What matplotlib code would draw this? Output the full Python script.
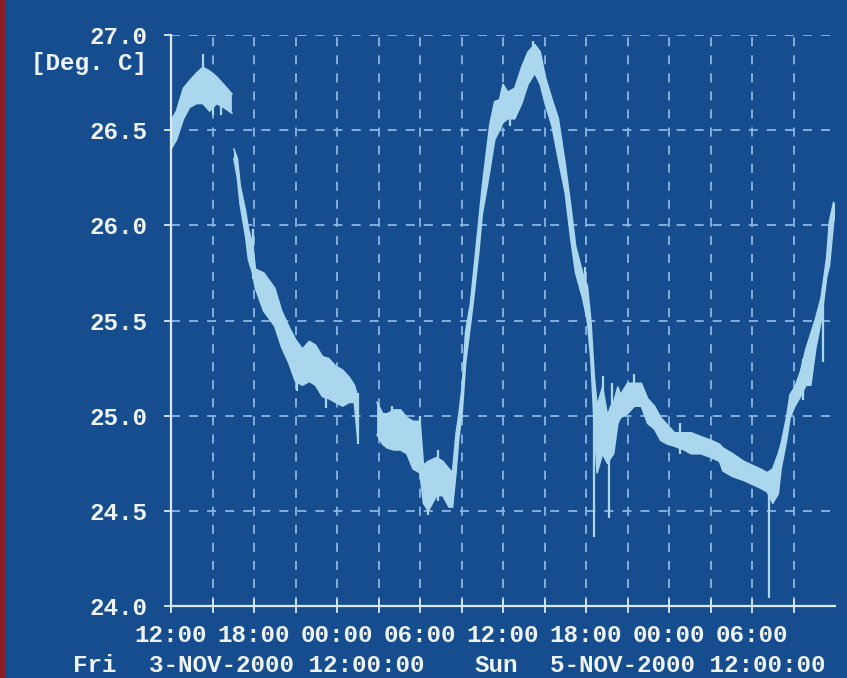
import numpy as np
import matplotlib
matplotlib.use("Agg")
import matplotlib.pyplot as plt
from matplotlib.patches import Rectangle

# ------------------------------------------------------------------
# Temperature log, Fri 3-Nov-2000 12:00 -> Sun 5-Nov-2000 12:00
# hours since start, lower / upper edge of the noisy trace (deg C)
# NaN rows are gaps in the recording
# ------------------------------------------------------------------
hours = [0.0, 0.4, 0.9, 1.35, 1.85, 2.3, 2.8, 3.3, 3.8, 4.4, np.nan,
         4.55, 4.8, 5.0, 5.4, 5.6, 5.9, 6.1, 6.7, 7.5, 8.0, 8.5, 9.0, 9.5,
         10.0, 10.45, 10.95, 11.4, 11.9, 12.4, 12.9, 13.25, 13.5, np.nan,
         14.9, 15.3, 15.65, 16.1, 16.6, 17.05, 17.5, 18.0, 18.25, 18.6,
         19.2, 19.65, 20.1, 20.35, 20.6, 20.8, 21.05, 21.3, 21.65, 21.9,
         22.25, 22.5, 22.7, 23.05, 23.4, 23.75, 24.0, 24.35, 24.85, 25.35,
         25.8, 26.3, 26.7, 27.05, 27.55, 28.0, 28.5, 28.9, 29.25, 29.75,
         30.1, 30.35, 30.6, 30.8, 31.0, 31.2, 31.55, 31.8, 32.0, 32.3, 32.5,
         33.0, 33.5, 34.0, 34.45, 34.95, 35.4, 35.9, 36.4, 37.1, 37.6, 38.3,
         39.05, 39.65, 39.9, 40.6, 41.4, 42.0, 42.6, 43.1, 43.5, 43.9, 44.1,
         44.5, 44.75, 45.1, 45.5, 45.9, 46.25, 46.6, 47.0, 47.4, 47.6, 47.9,
         48.0]
temp_lo = [26.40, 26.45, 26.56, 26.62, 26.64, 26.64, 26.60, 26.64, 26.62, 26.59, np.nan,
           26.35, 26.25, 26.11, 25.94, 25.82, 25.75, 25.67, 25.55, 25.47, 25.36, 25.28,
           25.18, 25.16, 25.18, 25.16, 25.10, 25.09, 25.07, 25.05, 25.07, 25.07, 24.88, np.nan,
           24.90, 24.85, 24.83, 24.82, 24.82, 24.80, 24.72, 24.70, 24.54, 24.50,
           24.58, 24.58, 24.52, 24.52, 24.70, 24.88, 25.02, 25.28, 25.48, 25.63,
           25.86, 26.06, 26.14, 26.29, 26.45, 26.50, 26.54, 26.56, 26.56, 26.64,
           26.74, 26.80, 26.74, 26.64, 26.52, 26.35, 26.17, 25.93, 25.75, 25.62,
           25.50, 25.30, 24.95, 24.70, 24.75, 24.80, 24.75, 24.78, 24.80, 24.96, 24.99,
           25.01, 25.05, 25.05, 24.96, 24.93, 24.87, 24.85, 24.84, 24.82, 24.80, 24.80,
           24.78, 24.76, 24.71, 24.68, 24.66, 24.64, 24.62, 24.60, 24.54, 24.59, 24.72,
           24.87, 24.99, 25.05, 25.10, 25.16, 25.16, 25.35, 25.50, 25.73, 25.79, 26.02,
           26.05]
temp_hi = [26.55, 26.60, 26.72, 26.76, 26.80, 26.83, 26.81, 26.78, 26.74, 26.69, np.nan,
           26.40, 26.35, 26.21, 26.07, 25.98, 25.90, 25.77, 25.75, 25.67, 25.55, 25.47,
           25.40, 25.35, 25.39, 25.37, 25.31, 25.30, 25.26, 25.24, 25.20, 25.16, 25.10, np.nan,
           25.07, 25.01, 25.01, 25.03, 25.03, 24.99, 24.97, 24.97, 24.74, 24.76,
           24.78, 24.76, 24.72, 24.70, 24.90, 25.00, 25.15, 25.44, 25.59, 25.77,
           26.02, 26.20, 26.32, 26.53, 26.65, 26.66, 26.74, 26.70, 26.72, 26.83,
           26.91, 26.95, 26.91, 26.78, 26.66, 26.56, 26.32, 26.10, 25.89, 25.75,
           25.68, 25.50, 25.20, 25.05, 25.10, 25.15, 25.00, 25.05, 25.07, 25.15, 25.11,
           25.17, 25.17, 25.17, 25.09, 25.05, 24.99, 24.95, 24.91, 24.91, 24.91, 24.89,
           24.87, 24.85, 24.83, 24.80, 24.76, 24.74, 24.72, 24.70, 24.72, 24.80, 24.85,
           24.99, 25.11, 25.15, 25.23, 25.35, 25.43, 25.51, 25.62, 25.83, 26.02, 26.12,
           26.10]

# single-sample glitches (hour, low, high)
spike_h = [2.3, 3.0, 3.6, 5.9, 9.1, 11.2, 13.55, 16.0, 18.0, 18.6, 19.3, 24.5,
           26.2, 29.9, 30.55, 31.25, 31.65, 31.9, 33.5, 36.8, 43.25, 45.7, 47.1]
spike_lo = [26.64, 26.58, 26.58, 25.72, 25.13, 25.04, 24.85, 24.85, 24.70, 24.48, 24.55,
            26.52, 26.80, 25.58, 24.36, 24.85, 24.46, 24.80, 25.05, 24.80, 24.04, 25.08,
            25.28]
spike_hi = [26.90, 26.80, 26.74, 25.98, 25.35, 25.30, 25.12, 25.05, 25.00, 24.76, 24.82,
            26.70, 26.97, 25.78, 25.20, 25.21, 25.00, 25.17, 25.22, 24.96, 24.65, 25.30,
            25.60]

xticks_major = [0, 6, 12, 18, 24, 30, 36, 42]
xtick_labels = ["12:00", "18:00", "00:00", "06:00", "12:00", "18:00", "00:00", "06:00"]
xticks_minor = [3, 9, 15, 21, 27, 33, 39, 45]
yticks = [24.0, 24.5, 25.0, 25.5, 26.0, 26.5, 27.0]

BG = "#164d8e"
TRACE = "#aad6ee"
GRID = "#8ab6e2"
AXIS = "#dce9f5"
TEXT = "#eef3f8"
FONT = ["Liberation Mono", "DejaVu Sans Mono"]

W, H = 847, 678
fig = plt.figure(figsize=(W / 100, H / 100), dpi=100, facecolor=BG)
fig.patches.append(Rectangle((0, 0), 5 / W, 1, transform=fig.transFigure,
                             facecolor="#8a1d27", edgecolor="none"))

ax = fig.add_axes([171 / W, (H - 606) / H, (835 - 171) / W, (606 - 35) / H])
ax.set_facecolor(BG)

h = np.array(hours, dtype=float)
lo = np.array(temp_lo, dtype=float)
hi = np.array(temp_hi, dtype=float)
ax.fill_between(h, lo, hi, color=TRACE, linewidth=0, zorder=3)
ax.plot(h, lo, color=TRACE, lw=1.2, zorder=3)
ax.plot(h, hi, color=TRACE, lw=1.2, zorder=3)
ax.vlines(spike_h, spike_lo, spike_hi, color=TRACE, lw=1.6, zorder=3)

ax.set_xlim(0, 48)
ax.set_ylim(24.0, 27.0)
ax.set_xticks(xticks_major)
ax.set_xticklabels(xtick_labels)
ax.set_xticks(xticks_minor, minor=True)
ax.set_yticks(yticks)
ax.set_yticklabels([f"{v:.1f}" for v in yticks])

ax.grid(True, which="both", color=GRID, lw=1.3, linestyle=(0, (5, 5)), zorder=1)

for s in ["top", "right"]:
    ax.spines[s].set_visible(False)
for s in ["left", "bottom"]:
    ax.spines[s].set_color(AXIS)
    ax.spines[s].set_linewidth(1.6)
    ax.spines[s].set_zorder(4)

ax.tick_params(axis="x", which="both", direction="inout", length=10, width=1.3,
               color=AXIS, pad=8)
ax.tick_params(axis="y", direction="out", length=5, width=1.3, color=AXIS, pad=12)
for lab in ax.get_xticklabels() + ax.get_yticklabels():
    lab.set_family(FONT)
    lab.set_fontweight("bold")
    lab.set_fontsize(17.5)
    lab.set_color(TEXT)

fig.text(147 / W, (H - 70) / H, "[Deg. C]", ha="right", va="baseline",
         family=FONT, fontweight="bold", fontsize=17.5, color=TEXT)

row2 = [(73, "Fri"), (149, "3-NOV-2000 12:00:00"),
        (475, "Sun"), (550, "5-NOV-2000 12:00:00")]
for px, txt in row2:
    fig.text(px / W, (H - 672) / H, txt, ha="left", va="baseline",
             family=FONT, fontweight="bold", fontsize=17.5, color=TEXT)

fig.savefig("out.png", dpi=100, facecolor=BG)
